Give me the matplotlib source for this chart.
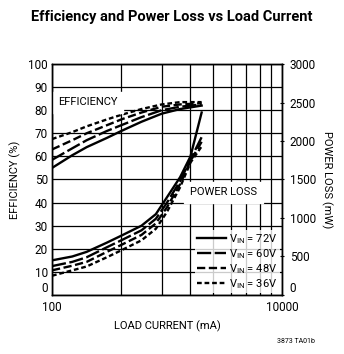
import matplotlib.pyplot as plt
from matplotlib.lines import Line2D

plt.rcParams['font.family'] = ['Roboto', 'DejaVu Sans']
plt.rcParams['mathtext.fontset'] = 'custom'
plt.rcParams['mathtext.rm'] = 'Roboto'

# Efficiency data (%)
eff_current = [100, 150, 200, 300, 400, 600, 900, 1300, 2000]
eff_72v = [55, 60.5, 64, 68, 71, 75, 78.5, 80.5, 82]
eff_60v = [58.5, 63.5, 67, 71, 73.5, 77, 80, 81.5, 82.5]
eff_48v = [63, 67, 70, 73.5, 76, 79, 81.5, 82.5, 83]
eff_36v = [67.5, 70.5, 73, 76, 78, 80.5, 82.5, 83.5, 83.5]

# Power loss data (mW)
loss_current = [100, 150, 200, 300, 400, 600, 800, 1000, 1300, 1600, 2000]
loss_72v = [450, 500, 560, 680, 770, 900, 1050, 1270, 1530, 1800, 2370]
loss_60v = [375, 430, 490, 620, 710, 840, 990, 1200, 1480, 1760, 2050]
loss_48v = [320, 380, 430, 560, 650, 780, 930, 1140, 1440, 1740, 1990]
loss_36v = [250, 320, 370, 490, 580, 710, 860, 1080, 1400, 1720, 1930]

labels = ['V$_{\\mathrm{IN}}$ = 72V', 'V$_{\\mathrm{IN}}$ = 60V',
          'V$_{\\mathrm{IN}}$ = 48V', 'V$_{\\mathrm{IN}}$ = 36V']
styles = ['-', (0, (6, 1.5)), (0, (3.5, 1.5)), (0, (2, 1.2))]

fig = plt.figure(figsize=(3.44, 3.54), dpi=100)
ax = fig.add_axes([0.1512, 0.1667, 0.6686, 0.6525])
ax2 = ax.twinx()

ax.set_xscale('log')
ax.set_xlim(100, 10000)
ax.set_ylim(0, 100)
ax2.set_ylim(0, 3000)

# grid like the original: one decade of lines stretched over the axis
ax.set_xticks([100, 10000])
ax.set_xticklabels(['100', '10000'])
ax.set_xticks([100 * k * k for k in range(2, 10)], minor=True)
ax.set_yticks(range(0, 101, 10))
ax.grid(True, which='both', axis='x', color='black', linewidth=0.9)
ax.grid(True, which='major', axis='y', color='black', linewidth=0.9)
ax.tick_params(axis='both', which='both', length=0, labelsize=8.5, pad=3)
ax.tick_params(axis='x', pad=4)

ax2.set_yticks(range(0, 3001, 500))
ax2.tick_params(axis='y', length=3, direction='inout', labelsize=8.5, pad=4)

# the "0" labels sit just above the bottom line, the x labels below it
ax.get_yticklabels()[0].set_va('bottom')
ax2.get_yticklabels()[0].set_va('bottom')

for a in (ax, ax2):
    for s in a.spines.values():
        s.set_linewidth(1.0)

eff_series = [eff_72v, eff_60v, eff_48v, eff_36v]
loss_series = [loss_72v, loss_60v, loss_48v, loss_36v]
for eff, loss, ls in zip(eff_series, loss_series, styles):
    ax.plot(eff_current, eff, color='black', linestyle=ls, linewidth=1.7)
    ax2.plot(loss_current, loss, color='black', linestyle=ls, linewidth=1.7)

ax.text(0.025, 0.835, 'EFFICIENCY', transform=ax.transAxes, fontsize=8,
        va='center', ha='left', backgroundcolor='white')
ax.text(0.6, 0.445, 'POWER LOSS', transform=ax.transAxes, fontsize=8,
        va='center', ha='left', backgroundcolor='white', zorder=5)

handles = [Line2D([0], [0], color='black', linestyle=ls, linewidth=1.7) for ls in styles]
leg = ax2.legend(handles, labels, loc='lower right', fontsize=8, frameon=True,
                 handlelength=2.6, handletextpad=0.3, labelspacing=0.1,
                 borderpad=0.2, borderaxespad=0.2, fancybox=False)
leg.get_frame().set_edgecolor('white')
leg.get_frame().set_linewidth(0)

ax.set_ylabel('EFFICIENCY (%)', fontsize=8, labelpad=5)
ax2.set_ylabel('POWER LOSS (mW)', fontsize=8, rotation=270, labelpad=12)
ax.set_xlabel('LOAD CURRENT (mA)', fontsize=8, labelpad=5)

fig.text(0.5, 0.952, 'Efficiency and Power Loss vs Load Current', ha='center',
         va='center', fontsize=10.5, fontweight='bold')
fig.text(0.86, 0.035, '3873 TA01b', ha='center', va='center', fontsize=5)

plt.savefig('out.png', dpi=100)
plt.close()
